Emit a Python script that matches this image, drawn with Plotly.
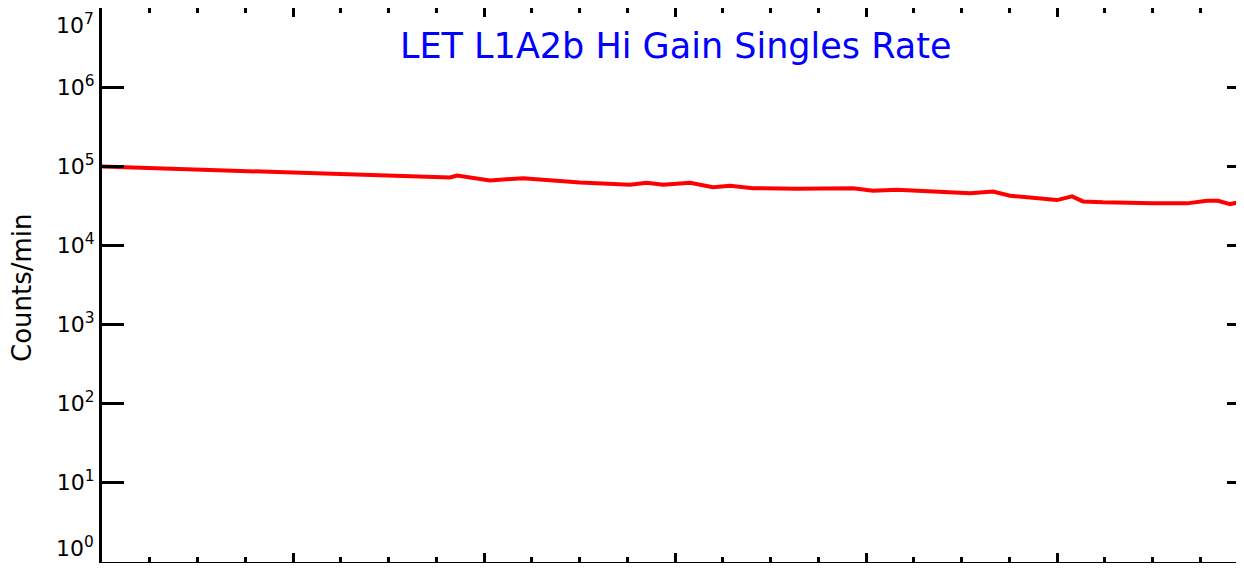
import plotly.graph_objects as go

# time in days from start of plot
days = [0.0, 0.634, 1.335, 1.822, 1.859, 2.031, 2.204, 2.503, 2.764, 2.853, 2.937,
        3.079, 3.199, 3.288, 3.408, 3.639, 3.932, 4.037, 4.162, 4.545, 4.665, 4.754,
        5.0, 5.079, 5.136, 5.241, 5.503, 5.681, 5.785, 5.843, 5.906, 5.974]
rate = [99500, 88700, 79000, 72500, 76800, 66400, 71000, 62700, 58700, 62100, 58700,
        62100, 54700, 56900, 53100, 52200, 53100, 49200, 50700, 45900, 48200, 42600,
        37500, 41800, 36100, 35100, 34100, 34100, 36800, 36800, 33400, 36100]

y_tickvals = [1, 10, 100, 1000, 10000, 100000, 1000000, 10000000]
y_ticktext = ["", "10<sup>1</sup>", "10<sup>2</sup>", "10<sup>3</sup>",
              "10<sup>4</sup>", "10<sup>5</sup>", "10<sup>6</sup>", ""]
edge_label_top = "10<sup>7</sup>"
edge_label_bottom = "10<sup>0</sup>"
x_major = [0, 1, 2, 3, 4, 5, 6]

title_text = "LET L1A2b Hi Gain Singles Rate"
ytitle_text = "Counts/min"

fig = go.Figure()
fig.add_trace(go.Scatter(x=days, y=rate, mode="lines",
                         line=dict(color="#ff0000", width=4), showlegend=False))
# invisible trace on right y-axis for right-side ticks
fig.add_trace(go.Scatter(x=[days[0]], y=[rate[0]], yaxis="y2", mode="lines",
                         line=dict(color="rgba(0,0,0,0)"), showlegend=False, hoverinfo="skip"))

# page body has an 8px default margin
OFF = 8
W, H = 1244 - OFF, 571 - 2 * OFF
L, R, T, B = 102 - OFF, 0, 0, 1
pxw = W - L - R
pxh = H - T - B
xmax = pxw / 191.0
eps = 0.004


def py(page_y):
    return 1 - (page_y - OFF - T) / pxh


def px(page_x):
    return (page_x - 102) / pxw


tickfont = dict(family="DejaVu Sans", size=22, color="black")

fig.update_layout(
    width=W, height=H,
    margin=dict(l=L, r=R, t=T, b=B, autoexpand=False),
    paper_bgcolor="white", plot_bgcolor="white",
    xaxis=dict(range=[0, xmax], tickvals=x_major, showticklabels=False,
               ticks="inside", ticklen=9, tickwidth=3, tickcolor="black",
               showline=True, linecolor="black", linewidth=3, mirror="ticks",
               showgrid=False, zeroline=False, automargin=False,
               minor=dict(dtick=0.25, ticks="inside", ticklen=5, tickwidth=3,
                          tickcolor="black", showgrid=False)),
    yaxis=dict(type="log", range=[-eps, 7 + eps], tickvals=y_tickvals, ticktext=y_ticktext,
               ticks="inside", ticklen=22, tickwidth=3, tickcolor="black",
               showline=True, linecolor="black", linewidth=3,
               showgrid=False, zeroline=False, automargin=False,
               ticklabeloverflow="allow", tickfont=tickfont),
    yaxis2=dict(type="log", range=[-eps, 7 + eps], tickvals=y_tickvals, overlaying="y",
                side="right", showticklabels=False, showline=False,
                ticks="inside", ticklen=17, tickwidth=3, tickcolor="black",
                showgrid=False, zeroline=False, automargin=False),
    annotations=[
        dict(text=title_text, xref="paper", yref="paper",
             x=px(675), y=py(46),
             xanchor="center", yanchor="middle", showarrow=False,
             font=dict(family="DejaVu Sans", size=35, color="#0000ff")),
        dict(text=ytitle_text, xref="paper", yref="paper",
             x=px(22), y=py(288),
             xanchor="center", yanchor="middle", showarrow=False, textangle=-90,
             font=dict(family="DejaVu Sans", size=26, color="black")),
        dict(text=edge_label_top, xref="paper", yref="paper",
             x=px(96), y=py(8), xanchor="right", yanchor="top",
             showarrow=False, font=tickfont),
        dict(text=edge_label_bottom, xref="paper", yref="paper",
             x=px(96), y=py(563), xanchor="right", yanchor="bottom",
             showarrow=False, font=tickfont),
    ],
)

fig.write_html("out.html")
